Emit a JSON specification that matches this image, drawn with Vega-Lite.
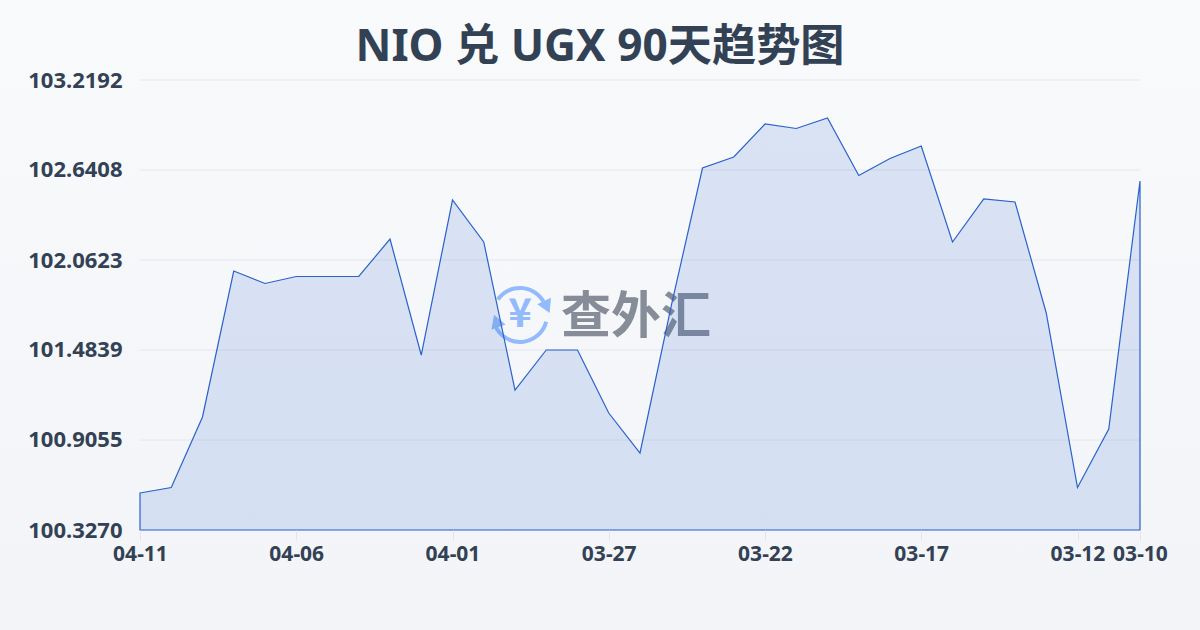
{
"$schema":"https://vega.github.io/schema/vega-lite/v6.json",
"width":1000,"height":450,
"autosize":{"type":"none"},
"padding":{"left":140,"top":80,"right":60,"bottom":100},
"config":{"view":{"stroke":null},"font":"Noto Sans"},
"title":{"text":"NIO 兑 UGX 90天趋势图","fontSize":44.2,"fontWeight":"bold","color":"#334155","font":"Noto Sans, Noto Sans CJK SC","anchor":"middle","dx":-40,"offset":-70},
"datasets":{
"rates":[
{"date":"2026-04-11","rate":100.5648},{"date":"2026-04-10","rate":100.6002},{"date":"2026-04-09","rate":101.0533},{"date":"2026-04-08","rate":101.9916},{"date":"2026-04-07","rate":101.9113},{"date":"2026-04-06","rate":101.9563},{"date":"2026-04-05","rate":101.9563},{"date":"2026-04-04","rate":101.9563},{"date":"2026-04-03","rate":102.1973},{"date":"2026-04-02","rate":101.4517},{"date":"2026-04-01","rate":102.4479},{"date":"2026-03-31","rate":102.178},{"date":"2026-03-30","rate":101.2268},{"date":"2026-03-29","rate":101.4839},{"date":"2026-03-28","rate":101.4839},{"date":"2026-03-27","rate":101.079},{"date":"2026-03-26","rate":100.8219},{"date":"2026-03-25","rate":101.7667},{"date":"2026-03-24","rate":102.6536},{"date":"2026-03-23","rate":102.7243},{"date":"2026-03-22","rate":102.9364},{"date":"2026-03-21","rate":102.9075},{"date":"2026-03-20","rate":102.975},{"date":"2026-03-19","rate":102.6054},{"date":"2026-03-18","rate":102.7147},{"date":"2026-03-17","rate":102.795},{"date":"2026-03-16","rate":102.178},{"date":"2026-03-15","rate":102.4544},{"date":"2026-03-14","rate":102.4351},{"date":"2026-03-13","rate":101.7217},{"date":"2026-03-12","rate":100.6002},{"date":"2026-03-11","rate":100.9761},{"date":"2026-03-10","rate":102.5701}],
"panel":[{"date":"2026-04-15T11:31:12Z","date2":"2026-03-08T01:55:12Z","rate":103.7334,"rate2":99.6843}],
"grid":[{"rate":100.327},{"rate":100.9055},{"rate":101.4839},{"rate":102.0623},{"rate":102.6408},{"rate":103.2192}],
"logo":[{"date":"2026-03-29T20:10:00Z","rate":101.709,"label":"¥"}],
"word":[{"date":"2026-03-26T03:07:00Z","rate":101.687,"label":"查外汇"}],
"arrowA":[{"date":"2026-03-29T00:14:00Z","rate":101.7731}],
"arrowB":[{"date":"2026-03-30T13:49:00Z","rate":101.6574}]
},
"encoding":{
"x":{"field":"date","type":"temporal","scale":{"type":"utc","domain":[{"year":2026,"month":3,"date":10,"utc":true},{"year":2026,"month":4,"date":11,"utc":true}],"reverse":true,"nice":false},"title":null,
 "axis":{"values":[{"year":2026,"month":4,"date":11,"utc":true},{"year":2026,"month":4,"date":6,"utc":true},{"year":2026,"month":4,"date":1,"utc":true},{"year":2026,"month":3,"date":27,"utc":true},{"year":2026,"month":3,"date":22,"utc":true},{"year":2026,"month":3,"date":17,"utc":true},{"year":2026,"month":3,"date":12,"utc":true},{"year":2026,"month":3,"date":10,"utc":true}],"labelExpr":"utcFormat(datum.value,'%m-%d')","labelAngle":0,"labelFontSize":21,"labelFontWeight":"bold","labelColor":"#334155","labelOverlap":false,"labelPadding":3,"tickColor":"#e2e5ea","tickSize":10,"domain":false,"grid":false,"labelBound":false,"labelFlush":false,"zindex":1}},
"y":{"field":"rate","type":"quantitative","scale":{"domain":[100.327,103.2192],"nice":false,"zero":false},"title":null,
 "axis":{"values":[100.327,100.9055,101.4839,102.0623,102.6408,103.2192],"format":".4f","labelFontSize":22,"labelFontWeight":"bold","labelColor":"#334155","labelPadding":18,"ticks":false,"domain":false,"grid":false,"zindex":1}}
},
"layer":[
{"data":{"name":"panel"},"mark":{"type":"rect","fill":{"gradient":"linear","x1":0,"y1":0,"x2":0,"y2":1,"stops":[{"offset":0,"color":"#f8fafc"},{"offset":1,"color":"#f2f4f7"}]}},"encoding":{"x2":{"field":"date2"},"y2":{"field":"rate2"}}},
{"data":{"name":"grid"},"mark":{"type":"rule","color":"#e5e7eb","strokeWidth":1},"encoding":{"x":{"value":0},"x2":{"value":1000}}},
{"data":{"name":"word"},"mark":{"type":"text","font":"Noto Sans CJK SC","fontWeight":"bold","fontSize":50,"color":"#6b7280","opacity":0.8},"encoding":{"text":{"field":"label"}}},
{"data":{"name":"logo"},"mark":{"type":"text","font":"Noto Sans CJK SC","fontWeight":"bold","fontSize":40,"color":"#93bbfb"},"encoding":{"text":{"field":"label"}}},
{"data":{"name":"logo"},"mark":{"type":"arc","innerRadius":25,"outerRadius":29,"theta":-0.96,"theta2":1.05,"color":"#93bbfb"},"encoding":{}},
{"data":{"name":"logo"},"mark":{"type":"arc","innerRadius":25,"outerRadius":29,"theta":1.82,"theta2":4.3,"color":"#93bbfb"},"encoding":{}},
{"data":{"name":"arrowA"},"mark":{"type":"point","shape":"triangle","filled":true,"size":230,"angle":155,"opacity":1,"color":"#93bbfb"},"encoding":{}},
{"data":{"name":"arrowB"},"mark":{"type":"point","shape":"triangle","filled":true,"size":230,"angle":340,"opacity":1,"color":"#93bbfb"},"encoding":{}},
{"data":{"name":"rates"},"mark":{"type":"area","color":"#2f62d0","fillOpacity":0.15,"stroke":"#2a62c9","strokeWidth":1.2,"strokeOpacity":1,"interpolate":"linear"},"encoding":{"y2":{"datum":100.327}}}
]
}
